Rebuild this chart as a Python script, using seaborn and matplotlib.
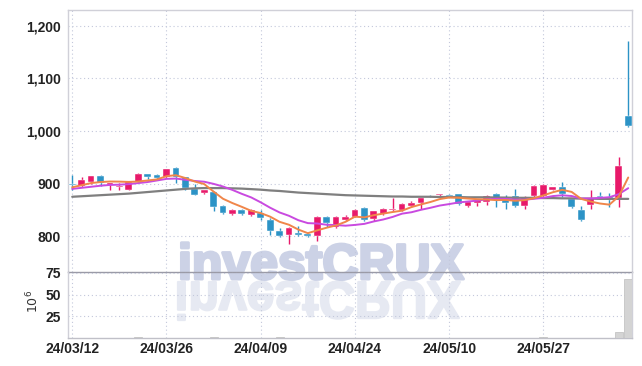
import numpy as np
import pandas as pd
import matplotlib
matplotlib.use("Agg")
import matplotlib.pyplot as plt
import matplotlib.patheffects as pe
import seaborn as sns
from matplotlib.textpath import TextPath
from matplotlib.patches import PathPatch
from matplotlib.font_manager import FontProperties
from matplotlib.transforms import Affine2D
from matplotlib.ticker import FuncFormatter

# ---------------- data ----------------
tick_labels = ["24/03/12", "24/03/26", "24/04/09", "24/04/24", "24/05/10", "24/05/27"]
tick_pos = [0, 10, 20, 30, 40, 50]

opens = [899, 895, 904, 915, 897, 894, 888, 904, 918, 917,
         912, 929, 912, 889, 882, 884, 858, 842, 849, 841,
         845, 831, 810, 802, 806, 804, 801, 837, 817, 830,
         837, 854, 833, 842, 849, 850, 858, 863, 877, 878,
         879, 880, 857, 863, 866, 880, 873, 877, 857, 877,
         876, 888, 893, 871, 849, 860, 877, 874, 873, 1028]
highs = [917, 913, 915, 917, 902, 902, 904, 921, 919, 918,
         928, 931, 913, 899, 888, 886, 859, 852, 852, 851,
         850, 835, 815, 818, 820, 806, 838, 839, 839, 840,
         851, 855, 848, 854, 873, 864, 867, 873, 878, 881,
         880, 881, 866, 871, 878, 882, 879, 890, 876, 897,
         899, 894, 904, 873, 858, 888, 885, 882, 951, 1171]
lows = [888, 894, 900, 896, 888, 888, 887, 903, 908, 907,
        910, 901, 887, 878, 880, 847, 843, 840, 841, 838,
        830, 803, 799, 785, 801, 798, 791, 817, 815, 828,
        836, 828, 829, 841, 847, 848, 855, 852, 874, 876,
        875, 860, 856, 858, 859, 856, 852, 856, 852, 873,
        873, 887, 875, 854, 828, 852, 870, 856, 855, 1007]
closes = [897, 906, 914, 902, 901, 896, 903, 918, 912, 911,
          927, 912, 891, 879, 887, 855, 844, 850, 843, 849,
          834, 810, 801, 815, 803, 800, 837, 826, 837, 837,
          849, 830, 847, 852, 852, 862, 864, 872, 875, 880,
          877, 861, 865, 869, 877, 871, 863, 857, 875, 896,
          897, 893, 880, 855, 830, 872, 874, 869, 934, 1009]
ma_short = [893, 897, 901, 903, 904, 903.8, 903.2, 904, 906, 908,
            914.2, 916, 910.6, 904, 899.2, 884.8, 871.2, 863, 855.8, 848.2,
            844, 837.2, 827.4, 821.8, 812.6, 805.8, 811.2, 816.2, 820.6, 827.4,
            837.2, 835.8, 840, 843, 846, 848.6, 855.4, 860.4, 865, 870.6,
            873.6, 873, 871.6, 870.4, 869.8, 868.6, 869, 867.4, 868.6, 872.4,
            877.6, 883.6, 888.2, 884.2, 871, 866, 862.2, 860, 875.8, 911.6]
ma_mid = [890, 892, 894, 896, 897.5, 898, 899, 901, 903, 906,
          909, 909.6, 907.3, 905, 903.6, 899.5, 894.5, 888, 880.5, 873.7,
          864.4, 854.2, 845.2, 838.8, 830.4, 824.9, 824.2, 821.8, 821.2, 820,
          821.5, 823.5, 828.1, 831.8, 836.7, 842.9, 845.6, 850.2, 854, 858.3,
          861.1, 864.2, 866, 867.7, 870.2, 871.1, 871, 869.5, 869.5, 871.1,
          873.1, 876.3, 877.8, 876.4, 871.7, 871.8, 872.9, 874.1, 880, 891.3]
ma_long = [875, 876, 877, 878, 879, 880, 881, 882.5, 884, 885.5,
           887, 888.5, 890, 891, 891.5, 891.5, 891.5, 891, 890.5, 889.5,
           888.5, 887, 886, 884.5, 883, 882, 881, 880, 879, 878,
           877.5, 877, 876.5, 876, 875.5, 875.5, 875, 875, 875, 874.5,
           874.5, 874.5, 874, 874, 874, 873.5, 873.5, 873, 873, 873,
           872.5, 872.5, 872, 872, 871.5, 871.5, 871, 871, 871, 871]
volume = [0.4, 0.3, 0.3, 0.4, 0.3, 0.3, 0.4, 1.5, 0.4, 0.3,
          0.4, 0.4, 0.3, 0.4, 0.3, 1.5, 0.4, 0.3, 0.3, 0.4,
          0.3, 0.4, 1.5, 0.4, 0.3, 0.3, 0.4, 0.3, 0.3, 0.4,
          0.3, 0.3, 0.4, 0.3, 0.4, 0.3, 0.3, 0.4, 0.3, 0.3,
          0.3, 0.4, 0.3, 0.3, 0.4, 0.3, 0.3, 0.4, 0.3, 0.4,
          1.5, 0.3, 0.4, 0.3, 0.4, 0.3, 0.3, 0.4, 7.0, 68.5]

df = pd.DataFrame({"idx": np.arange(len(closes)), "open": opens, "high": highs,
                   "low": lows, "close": closes, "ma_short": ma_short,
                   "ma_mid": ma_mid, "ma_long": ma_long, "volume": volume})

UP = "#e8196a"
DOWN = "#2c93c6"
GRID = "#c3c8db"
WM = "#ccd2e6"
WM_REFL = "#e6e9f2"

sns.set_theme(style="white")
plt.rcParams['font.family'] = ['DejaVu Sans']

fig = plt.figure(figsize=(6.42, 3.66), dpi=100)
W, H = 642, 366
L, R = 68, 632
ax = fig.add_axes([L / W, 1 - 272 / H, (R - L) / W, (272 - 10) / H])
axv = fig.add_axes([L / W, 1 - 338 / H, (R - L) / W, (338 - 272) / H], sharex=ax)
for a in (ax, axv):
    a.set_facecolor("none")

# ---------------- watermark ----------------
wm_prop = FontProperties(family="Liberation Sans", weight="bold")
tp = TextPath((0, 0), "investCRUX", size=1, prop=wm_prop)
bb = tp.get_extents()
s = 282 / bb.width
x0_px, base_px = 178, 279
fig.text(x0_px / W, 1 - base_px / H, "investCRUX", family="Liberation Sans",
         weight="bold", fontsize=s * 0.72, color=WM, ha="left", va="baseline",
         zorder=-5, path_effects=[pe.Stroke(linewidth=2.2, foreground=WM, joinstyle="round"),
                                  pe.Normal()])
refl = PathPatch(tp, transform=Affine2D().translate(-bb.x0, 0).scale(s, -s * 1.05)
                 .translate(x0_px, H - base_px - 3),
                 facecolor=WM_REFL, edgecolor=WM_REFL, linewidth=1.6,
                 joinstyle="round", zorder=-5)
fig.add_artist(refl)

# ---------------- candles ----------------
up = df["close"] >= df["open"]
colors = np.where(up, UP, DOWN)
body_lo = np.minimum(df["open"], df["close"])
body_h = np.maximum(np.abs(df["close"] - df["open"]), 1.2)
ax.vlines(df["idx"], df["low"], df["high"], colors=colors, lw=1.0, zorder=3)
ax.bar(df["idx"], body_h, bottom=body_lo, width=0.72, color=colors,
       edgecolor="white", linewidth=0.3, zorder=4)

sns.lineplot(data=df, x="idx", y="ma_long", ax=ax, color="#7f7f7f", lw=1.6, zorder=5)
sns.lineplot(data=df, x="idx", y="ma_mid", ax=ax, color="#c94ae0", lw=1.4, zorder=6)
sns.lineplot(data=df, x="idx", y="ma_short", ax=ax, color="#f0864a", lw=1.4, zorder=7)

ax.set_ylim(732, 1230)
ax.set_xlim(-0.45, 59.4)
ax.set_yticks([800, 900, 1000, 1100, 1200])
ax.yaxis.set_major_formatter(FuncFormatter(lambda v, p: f"{v:,.0f}"))
ax.set_xlabel("")
ax.set_ylabel("")

# ---------------- volume ----------------
axv.bar(df["idx"], df["volume"], width=0.85, color="#d4d4d4", edgecolor="#bdbdbd",
        linewidth=0.5, zorder=3)
axv.set_ylim(0, 76)
axv.set_yticks([25, 50, 75])
axv.set_xticks(tick_pos)
axv.set_xticklabels(tick_labels)
fig.text(33 / W, 1 - 301 / H, "$10^{6}$", rotation=90, fontsize=9,
         color="#333333", ha="center", va="center")

tick_font = FontProperties(family="Liberation Sans", weight="bold", size=10)
for a in (ax, axv):
    a.grid(True, axis="both", linestyle=(0, (1, 2.5)), color=GRID, lw=0.8, zorder=0)
    a.tick_params(axis="both", length=0, pad=5, colors="#222222")
    for lab in a.get_yticklabels():
        lab.set_fontproperties(tick_font)
    for sp in a.spines.values():
        sp.set_color("#d0d0d8")
        sp.set_linewidth(1.0)
ax.set_xticks(tick_pos)
ax.tick_params(axis="x", labelbottom=False)
axv.tick_params(axis="x", pad=3)
for lab in axv.get_xticklabels():
    lab.set_fontproperties(tick_font)
ax.spines["bottom"].set_color("#9a9aa6")
axv.spines["top"].set_visible(False)
axv.spines["bottom"].set_color("#c0c0c8")

fig.savefig("out.png", dpi=100, facecolor="white")
